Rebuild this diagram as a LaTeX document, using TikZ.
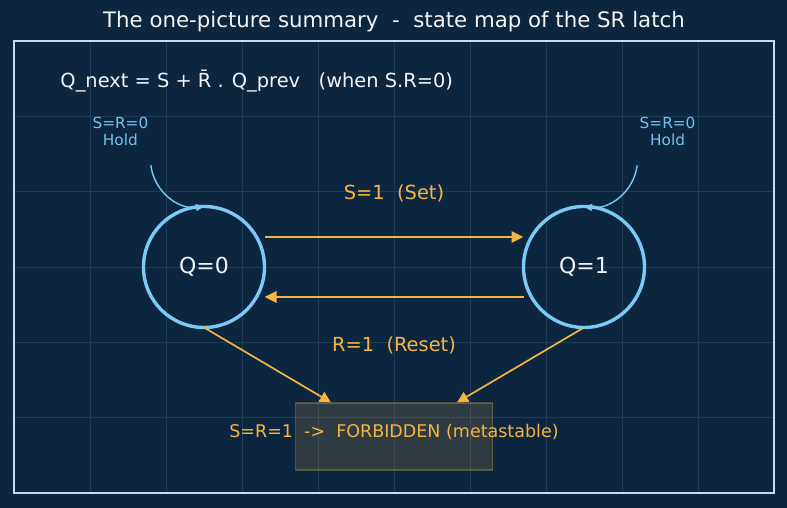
\documentclass[tikz,border=0pt]{standalone}
\usepackage{fontspec}
\setmainfont{DejaVu Sans}
\usetikzlibrary{arrows.meta, positioning}
\definecolor{cbg}{HTML}{0C2640}
\definecolor{cgrid}{HTML}{1E3C57}
\definecolor{cframe}{HTML}{C6DDEE}
\definecolor{cblue}{HTML}{7BC9F4}
\definecolor{chold}{HTML}{72C2EC}
\definecolor{corange}{HTML}{F6B443}
\definecolor{cwhite}{HTML}{F2F5F8}
\tikzset{
  every picture/.style={line width=1.2pt},
  state/.style={circle, draw=cblue, line width=3.4pt, minimum size=121pt, inner sep=0pt, outer sep=0pt,
    text=cwhite, font=\fontsize{22}{26}\selectfont},
  trans/.style={-{Triangle[length=12pt, width=11pt]}, draw=corange, line width=2.8pt},
  toforbid/.style={-{Triangle[length=11pt, width=11pt]}, draw=corange, line width=1.7pt},
  holdloop/.style={-{Triangle[length=8pt, width=7pt]}, draw=cblue, line width=1.4pt},
  translabel/.style={text=corange, font=\fontsize{19.4}{23}\selectfont},
  holdlabel/.style={text=chold, align=center, font=\fontsize{15.3}{16.5}\selectfont},
  forbidbox/.style={draw=corange, draw opacity=0.3, fill=corange, fill opacity=0.15, line width=1.2pt,
    minimum width=197pt, minimum height=67pt, inner sep=0pt},
  gridline/.style={draw=cgrid, line width=0.7pt},
}

\begin{document}
\begin{tikzpicture}[x=76pt, y=75.33pt]
  % ---------- background, frame and grid ----------
  \fill[cbg] ([shift={(-14pt,-15pt)}]0,0) rectangle ([shift={(13pt,41pt)}]10,6);
  \foreach \i in {1,...,9} \draw[gridline] (\i,0) -- (\i,6);
  \foreach \j in {1,...,5} \draw[gridline] (0,\j) -- (10,\j);
  \draw[cframe, line width=2.2pt] (0,0) rectangle (10,6);
  \node[text=cwhite, font=\fontsize{21.3}{25}\selectfont] (title) at ([yshift=19pt]5,6)
    {The one-picture summary\ \ -\ \ state map of the SR latch};
  \node[text=cwhite, anchor=west, font=\fontsize{19.4}{23}\selectfont] (rule) at (0.56,5.47)
    {Q\_next = S + R̄ . Q\_prev\ \ \ (when S.R=0)};
  % ---------- states ----------
  \node[state] (q0) at (2.5,3) {Q=0};
  \node[state] (q1) at (7.5,3) {Q=1};
  % ---------- set / reset ----------
  \draw[trans] ([yshift=30pt]q0.east) -- ([yshift=30pt]q1.west);
  \draw[trans] ([yshift=-30pt]q1.west) -- ([yshift=-30pt]q0.east);
  \node[translabel] (setlbl) at (5,3.98) {S=1\ \ (Set)};
  \node[translabel] (resetlbl) at (5,1.96) {R=1\ \ (Reset)};
  % ---------- hold loops ----------
  \coordinate (hold0) at (1.8,4.35);
  \coordinate (hold1) at (8.2,4.35);
  \draw[holdloop] (hold0) to[bend right=45] (q0.north);
  \draw[holdloop] (hold1) to[bend left=45] (q1.north);
  \node[holdlabel] (holdlbl0) at (1.4,4.8) {S=R=0\\Hold};
  \node[holdlabel] (holdlbl1) at (8.6,4.8) {S=R=0\\Hold};
  % ---------- forbidden ----------
  \node[forbidbox] (fb) at (5,0.75) {};
  \node[text=corange, font=\fontsize{17.5}{21}\selectfont] (fbtxt) at (5,0.81)
    {S=R=1\ \ ->\ \ FORBIDDEN (metastable)};
  \draw[toforbid] (q0.south) -- ([xshift=36pt]fb.north west);
  \draw[toforbid] (q1.south) -- ([xshift=-36pt]fb.north east);
\end{tikzpicture}
\end{document}
